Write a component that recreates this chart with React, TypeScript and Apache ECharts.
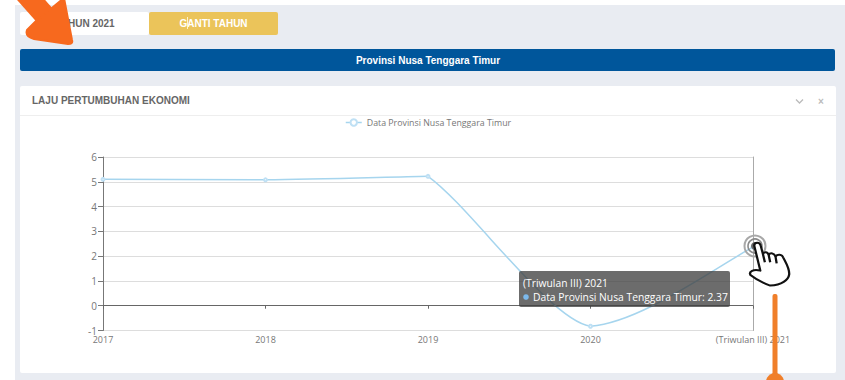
import React, { useEffect, useRef } from "react";
import * as echarts from "echarts";

const categories = ["2017", "2018", "2019", "2020", "(Triwulan III) 2021"];
const seriesName = "Data Provinsi Nusa Tenggara Timur";
const growthValues = [5.1, 5.08, 5.22, -0.83, 2.37];
const yMin = -1;
const yMax = 6;

const HAND_PATH =
  "M68 62 C68 50 83 50 85 62 L91 88 C93 79 103 79 106 90 C110 82 121 84 124 95 C129 87 141 88 144 97 C152 115 161 130 160 148 C158 165 140 180 110 182 C95 176 75 165 58 150 C53 140 66 131 84 137 Z M91 88 L96 112 M106 90 L110 112 M124 95 L127 115";
const ARROW_HEAD = "M36 21 L27 30 C25 36 30 38 34 39 L68 44 C71 44 73 43 72 40 L64 -2 Z";

const uiFont = "'Liberation Sans', Arial, sans-serif";
const chartFont = "'Open Sans', sans-serif";
const lineColor = "#a6d5ee";

function buildPageGraphics() {
  const rect = (x: number, y: number, width: number, height: number, fill: string, r = 0, z = -10) => ({
    type: "rect", z, silent: true, shape: { x, y, width, height, r }, style: { fill },
  });
  const label = (x: number, y: number, text: string, fill: string, font: string, align = "left", z = -5) => ({
    type: "text", z, silent: true, x, y,
    style: { text, fill, font, align, verticalAlign: "middle" },
  });
  const last = growthValues.length - 1;
  const tipFont = `10.3px ${chartFont}`;
  return [
    rect(15, 5, 830, 375, "#e9ecf2", 0, -20),
    rect(20, 12, 129, 23, "#ffffff", 2),
    rect(149, 12, 129, 23, "#ebc45a", 2),
    label(85, 23, "TAHUN 2021", "#666666", `bold 10px ${uiFont}`, "center"),
    label(213.5, 23, "GANTI TAHUN", "#ffffff", `bold 10px ${uiFont}`, "center"),
    rect(187, 17, 1, 12, "#fff4d0", 0, -4),
    rect(20, 49, 815, 22, "#00569b", 2),
    label(428, 60, "Provinsi Nusa Tenggara Timur", "#ffffff", `bold 10px ${uiFont}`, "center"),
    rect(20, 86, 816, 287, "#ffffff", 2),
    rect(20, 115, 816, 1, "#eeeeee", 0, -9),
    label(32, 100.5, "LAJU PERTUMBUHAN EKONOMI", "#666666", `bold 10px ${uiFont}`),
    {
      type: "polyline", z: -5, silent: true,
      shape: { points: [[796, 99.5], [799.5, 103], [803, 99.5]] },
      style: { stroke: "#bbbbbb", lineWidth: 1.3, fill: "none" },
    },
    label(821, 101, "×", "#bbbbbb", `bold 10px ${uiFont}`, "center"),

    // Hover readout for the latest reading
    rect(519, 271, 211, 36, "rgba(62,62,62,0.76)", 2, 40),
    label(523, 283, categories[last], "#ffffff", tipFont, "left", 41),
    { type: "circle", z: 41, silent: true, shape: { cx: 526, cy: 297, r: 2.8 }, style: { fill: "#7cb9ec" } },
    label(533, 296.5, `${seriesName}: ${growthValues[last]}`, "#ffffff", tipFont, "left", 41),

    // Pointer annotation on the latest reading
    { type: "circle", z: 50, silent: true, shape: { cx: 755, cy: 246, r: 10.5 }, style: { fill: "none", stroke: "#a8a8a8", lineWidth: 2 } },
    { type: "circle", z: 50, silent: true, shape: { cx: 755, cy: 246, r: 7 }, style: { fill: "none", stroke: "#8a8a8a", lineWidth: 1.6 } },
    { type: "circle", z: 50, silent: true, shape: { cx: 755, cy: 246, r: 4 }, style: { fill: "#666666" } },
    { type: "handCursor", z: 60, silent: true, x: 728.4, y: 225, scaleX: 0.38, scaleY: 1 / 3, style: { fill: "#ffffff", stroke: "#111111", lineWidth: 6, lineJoin: "round" } },

    // Orange callouts
    { type: "rect", z: 60, silent: true, shape: { x: 772.5, y: 294, width: 5, height: 86, r: 2 }, style: { fill: "#f07f2a" } },
    { type: "circle", z: 60, silent: true, shape: { cx: 775, cy: 382, r: 9 }, style: { fill: "#f07f2a" } },
    { type: "line", z: 60, silent: true, shape: { x1: 24, y1: -8, x2: 56, y2: 28 }, style: { stroke: "#f7691e", lineWidth: 21 } },
    { type: "arrowHead", z: 60, silent: true, style: { fill: "#f7691e", stroke: "#f7691e", lineWidth: 2, lineJoin: "round" } },
  ];
}

// Bezier handle lengths as fractions of a segment's width and height: the curve
// leaves a peak almost straight and flattens out around a trough.
function handleOut(i: number): [number, number] {
  const v = growthValues;
  if (v[i] < v[i - 1] && v[i] < v[i + 1]) return [0.3, 0.05];
  if (v[i] > v[i - 1] && v[i] > v[i + 1]) return [0.26, 0.2];
  return [0.3, 0.3];
}
function handleIn(i: number): [number, number] {
  const v = growthValues;
  if (v[i] < v[i - 1] && v[i] < v[i + 1]) return [0.25, 0.04];
  return i === v.length - 1 ? [0.3, 0.35] : [0.3, 0.3];
}

function renderSegment(params: any, api: any) {
  const i = params.dataIndex;
  if (i >= growthValues.length - 1) return null;
  const [x1, y1] = api.coord([i, growthValues[i]]);
  const [x2, y2] = api.coord([i + 1, growthValues[i + 1]]);
  const dx = x2 - x1;
  const dy = y2 - y1;
  const [ox, oy] = handleOut(i);
  const [ix, iy] = handleIn(i + 1);
  return {
    type: "bezierCurve",
    silent: true,
    shape: {
      x1, y1, x2, y2,
      cpx1: x1 + ox * dx,
      cpy1: y1 + oy * dy,
      cpx2: x2 - ix * dx,
      cpy2: y2 - iy * dy,
    },
    style: { stroke: lineColor, fill: "none", lineWidth: 1.5 },
  };
}

export default function App() {
  const ref = useRef<HTMLDivElement>(null);

  useEffect(() => {
    echarts.graphic.registerShape("handCursor", echarts.graphic.extendPath(HAND_PATH, {}) as any);
    echarts.graphic.registerShape("arrowHead", echarts.graphic.extendPath(ARROW_HEAD, {}) as any);

    const chart = echarts.init(ref.current!, undefined, { renderer: "svg" });
    chart.setOption({
      animation: false,
      backgroundColor: "#ffffff",
      textStyle: { fontFamily: chartFont },
      graphic: buildPageGraphics(),
      tooltip: { show: false },
      legend: {
        top: 113,
        left: 340,
        itemWidth: 16,
        itemHeight: 8,
        itemGap: 6,
        data: [seriesName],
        lineStyle: { color: lineColor, width: 1.5, opacity: 1 },
        textStyle: { color: "#777777", fontSize: 8.8, fontFamily: chartFont },
      },
      grid: { left: 103, right: 92, top: 157, height: 173.5 },
      xAxis: [
        {
          type: "category",
          data: categories,
          boundaryGap: false,
          axisLine: { show: false, onZero: false },
          axisTick: { show: false },
          axisLabel: { color: "#777777", fontSize: 9, lineHeight: 9, margin: 4, showMaxLabel: true, hideOverlap: false },
        },
        {
          type: "category",
          data: categories,
          boundaryGap: false,
          position: "bottom",
          axisLine: { show: true, onZero: true, lineStyle: { color: "#666666", width: 1 } },
          axisTick: { show: true, length: 3, lineStyle: { color: "#666666" } },
          axisLabel: { show: false },
        },
      ],
      yAxis: [
        {
          type: "value",
          min: yMin,
          max: yMax,
          interval: 1,
          axisLine: { show: true, onZero: false, lineStyle: { color: "#777777" } },
          axisTick: { show: true, length: 5, lineStyle: { color: "#777777" } },
          axisLabel: { color: "#777777", fontSize: 10, lineHeight: 10, margin: 6 },
          splitLine: { lineStyle: { color: "#dddddd" } },
        },
        {
          type: "value",
          min: yMin,
          max: yMax,
          interval: 1,
          position: "right",
          axisLine: { show: true, onZero: false, lineStyle: { color: "#aaaaaa" } },
          axisTick: { show: false },
          axisLabel: { show: false },
          splitLine: { show: false },
        },
      ],
      series: [
        {
          // Curve drawn segment by segment through the axis scales
          type: "custom",
          name: "curve",
          z: 1,
          silent: true,
          coordinateSystem: "cartesian2d",
          data: growthValues.map((value, i) => [i, value]),
          encode: { x: 0, y: 1 },
          renderItem: renderSegment,
        },
        {
          // Point markers and legend entry
          name: seriesName,
          type: "line",
          z: 2,
          symbol: "emptyCircle",
          symbolSize: 3,
          data: growthValues,
          lineStyle: { color: lineColor, width: 0, opacity: 0 },
          itemStyle: { color: "#bfe0f4" },
          emphasis: { disabled: true },
        },
      ],
    });

    return () => chart.dispose();
  }, []);

  return <div ref={ref} style={{ position: "absolute", left: 0, top: 0, width: 845, height: 380 }} />;
}
